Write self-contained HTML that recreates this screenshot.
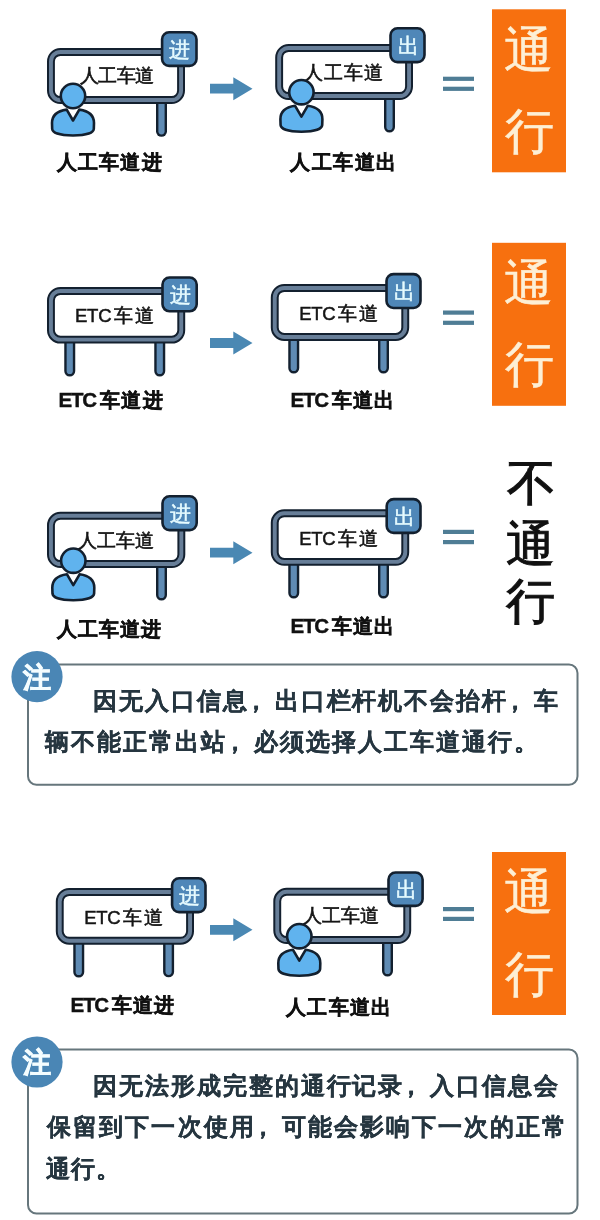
<!DOCTYPE html><html><head><meta charset="utf-8"><style>html,body{margin:0;padding:0;background:#fff;width:600px;height:1220px;overflow:hidden}svg{display:block;will-change:transform}</style></head><body>
<svg width="600" height="1220" viewBox="0 0 600 1220" font-family="'Liberation Sans', sans-serif">
<line x1="161.50" y1="100" x2="161.50" y2="131.30" stroke="#13202f" stroke-width="11.00" stroke-linecap="round"/>
<line x1="161.50" y1="100" x2="161.50" y2="131.30" stroke="#5f8bb4" stroke-width="6.20" stroke-linecap="round"/>
<rect x="50.95" y="51.95" width="130.10" height="48.10" rx="9.5" fill="#fff" stroke="#13202f" stroke-width="7.9"/>
<rect x="50.95" y="51.95" width="130.10" height="48.10" rx="9.5" fill="none" stroke="#677e98" stroke-width="3.9"/>
<rect x="162.10" y="32.30" width="34.40" height="33.60" rx="7" fill="#4f87b8" stroke="#13202f" stroke-width="2.6"/>
<text x="169.30" y="56.60" font-size="21" font-weight="500" fill="#e6fbff" stroke="#e6fbff" stroke-width="0.5">进</text>
<text x="79.70" y="82.20" font-size="19" font-weight="500" fill="#151515" stroke="#151515" stroke-width="0.6" letter-spacing="-0.50">人工车道</text>
<g transform="translate(73,96)" stroke="#13202f" stroke-width="2.6" stroke-linejoin="round" fill="#60b3ee">
<path d="M -20.8,33 L -21,27 C -21,19 -16,15 -6.3,13.6 L 0,24.5 L 6.3,13.6 C 16,15 21,19 21,27 L 20.8,33 C 20.5,36.5 14,39.5 0,39.5 C -14,39.5 -20.5,36.5 -20.8,33 Z"/>
<circle cx="0" cy="0" r="12.2"/>
</g>
<text x="56.70" y="169.00" font-size="20" font-weight="bold" fill="#111" stroke="#111" stroke-width="0.5" letter-spacing="1.25">人工车道进</text>
<path d="M 210,83.8 L 233.3,83.8 L 233.3,77.2 L 252.5,88.7 L 233.3,100.2 L 233.3,93.60000000000001 L 210,93.60000000000001 Z" fill="#4a88b3"/>
<line x1="389.50" y1="96" x2="389.50" y2="127.00" stroke="#13202f" stroke-width="11.00" stroke-linecap="round"/>
<line x1="389.50" y1="96" x2="389.50" y2="127.00" stroke="#5f8bb4" stroke-width="6.20" stroke-linecap="round"/>
<rect x="279.15" y="47.95" width="129.90" height="48.10" rx="9.5" fill="#fff" stroke="#13202f" stroke-width="7.9"/>
<rect x="279.15" y="47.95" width="129.90" height="48.10" rx="9.5" fill="none" stroke="#677e98" stroke-width="3.9"/>
<rect x="390.50" y="28.30" width="34.00" height="33.80" rx="7" fill="#4f87b8" stroke="#13202f" stroke-width="2.6"/>
<text x="398.00" y="53.20" font-size="21" font-weight="500" fill="#e6fbff" stroke="#e6fbff" stroke-width="0.5">出</text>
<text x="304.20" y="78.60" font-size="19" font-weight="500" fill="#151515" stroke="#151515" stroke-width="0.6" letter-spacing="0.83">人工车道</text>
<g transform="translate(301.4,92.2)" stroke="#13202f" stroke-width="2.6" stroke-linejoin="round" fill="#60b3ee">
<path d="M -20.8,33 L -21,27 C -21,19 -16,15 -6.3,13.6 L 0,24.5 L 6.3,13.6 C 16,15 21,19 21,27 L 20.8,33 C 20.5,36.5 14,39.5 0,39.5 C -14,39.5 -20.5,36.5 -20.8,33 Z"/>
<circle cx="0" cy="0" r="12.2"/>
</g>
<text x="290.30" y="169.25" font-size="20" font-weight="bold" fill="#111" stroke="#111" stroke-width="0.5" letter-spacing="1.42">人工车道出</text>
<rect x="443" y="76.7" width="31" height="4.2" fill="#4f7d95"/>
<rect x="443" y="86.7" width="31" height="4.2" fill="#4f7d95"/>
<rect x="492" y="9.3" width="74" height="163" fill="#f7700f"/>
<text x="503.85" y="66.55" font-size="49" font-weight="normal" fill="#fdefd5" stroke="#fdefd5" stroke-width="0.5">通</text>
<text x="504.55" y="147.80" font-size="49" font-weight="normal" fill="#fdefd5" stroke="#fdefd5" stroke-width="0.5">行</text>
<line x1="69.75" y1="339" x2="69.75" y2="371.00" stroke="#13202f" stroke-width="11.00" stroke-linecap="round"/>
<line x1="69.75" y1="339" x2="69.75" y2="371.00" stroke="#5f8bb4" stroke-width="6.20" stroke-linecap="round"/>
<line x1="159.75" y1="339" x2="159.75" y2="371.00" stroke="#13202f" stroke-width="11.00" stroke-linecap="round"/>
<line x1="159.75" y1="339" x2="159.75" y2="371.00" stroke="#5f8bb4" stroke-width="6.20" stroke-linecap="round"/>
<rect x="50.95" y="290.95" width="130.30" height="48.70" rx="9.5" fill="#fff" stroke="#13202f" stroke-width="7.9"/>
<rect x="50.95" y="290.95" width="130.30" height="48.70" rx="9.5" fill="none" stroke="#677e98" stroke-width="3.9"/>
<rect x="162.50" y="277.50" width="34.20" height="33.80" rx="7" fill="#4f87b8" stroke="#13202f" stroke-width="2.6"/>
<text x="169.60" y="301.90" font-size="21" font-weight="500" fill="#e6fbff" stroke="#e6fbff" stroke-width="0.5">进</text>
<text x="75.00" y="322.00" font-size="18.5" font-weight="normal" fill="#151515" stroke="#151515" stroke-width="0.5" letter-spacing="-0.25">ETC</text>
<text x="114.00" y="322.00" font-size="19" font-weight="500" fill="#151515" stroke="#151515" stroke-width="0.6" letter-spacing="1.50">车道</text>
<text x="58.50" y="406.90" font-size="20.5" font-weight="bold" fill="#111" stroke="#111" stroke-width="0.4" letter-spacing="-1.25">ETC</text>
<text x="99.50" y="406.90" font-size="20" font-weight="bold" fill="#111" stroke="#111" stroke-width="0.5" letter-spacing="1.60">车道进</text>
<path d="M 210,338.1 L 233.3,338.1 L 233.3,331.5 L 252.5,343 L 233.3,354.5 L 233.3,347.9 L 210,347.9 Z" fill="#4a88b3"/>
<line x1="293.75" y1="337" x2="293.75" y2="368.00" stroke="#13202f" stroke-width="11.00" stroke-linecap="round"/>
<line x1="293.75" y1="337" x2="293.75" y2="368.00" stroke="#5f8bb4" stroke-width="6.20" stroke-linecap="round"/>
<line x1="383.50" y1="337" x2="383.50" y2="368.00" stroke="#13202f" stroke-width="11.00" stroke-linecap="round"/>
<line x1="383.50" y1="337" x2="383.50" y2="368.00" stroke="#5f8bb4" stroke-width="6.20" stroke-linecap="round"/>
<rect x="274.75" y="287.95" width="130.50" height="49.00" rx="9.5" fill="#fff" stroke="#13202f" stroke-width="7.9"/>
<rect x="274.75" y="287.95" width="130.50" height="49.00" rx="9.5" fill="none" stroke="#677e98" stroke-width="3.9"/>
<rect x="386.50" y="274.10" width="34.00" height="33.90" rx="7" fill="#4f87b8" stroke="#13202f" stroke-width="2.6"/>
<text x="394.00" y="299.05" font-size="21" font-weight="500" fill="#e6fbff" stroke="#e6fbff" stroke-width="0.5">出</text>
<text x="299.20" y="320.00" font-size="18.5" font-weight="normal" fill="#151515" stroke="#151515" stroke-width="0.5" letter-spacing="-0.25">ETC</text>
<text x="338.20" y="320.00" font-size="19" font-weight="500" fill="#151515" stroke="#151515" stroke-width="0.6" letter-spacing="1.50">车道</text>
<text x="290.50" y="407.20" font-size="20.5" font-weight="bold" fill="#111" stroke="#111" stroke-width="0.4" letter-spacing="-1.25">ETC</text>
<text x="331.50" y="407.20" font-size="20" font-weight="bold" fill="#111" stroke="#111" stroke-width="0.5" letter-spacing="1.25">车道出</text>
<rect x="443" y="310.5" width="31" height="4.2" fill="#4f7d95"/>
<rect x="443" y="320.7" width="31" height="4.2" fill="#4f7d95"/>
<rect x="492" y="242.8" width="74" height="163" fill="#f7700f"/>
<text x="503.85" y="300.05" font-size="49" font-weight="normal" fill="#fdefd5" stroke="#fdefd5" stroke-width="0.5">通</text>
<text x="504.55" y="381.30" font-size="49" font-weight="normal" fill="#fdefd5" stroke="#fdefd5" stroke-width="0.5">行</text>
<line x1="161.50" y1="563" x2="161.50" y2="595.00" stroke="#13202f" stroke-width="11.00" stroke-linecap="round"/>
<line x1="161.50" y1="563" x2="161.50" y2="595.00" stroke="#5f8bb4" stroke-width="6.20" stroke-linecap="round"/>
<rect x="50.95" y="515.75" width="130.40" height="48.30" rx="9.5" fill="#fff" stroke="#13202f" stroke-width="7.9"/>
<rect x="50.95" y="515.75" width="130.40" height="48.30" rx="9.5" fill="none" stroke="#677e98" stroke-width="3.9"/>
<rect x="162.50" y="496.30" width="34.20" height="33.80" rx="7" fill="#4f87b8" stroke="#13202f" stroke-width="2.6"/>
<text x="169.60" y="520.70" font-size="21" font-weight="500" fill="#e6fbff" stroke="#e6fbff" stroke-width="0.5">进</text>
<text x="77.50" y="546.50" font-size="19" font-weight="500" fill="#151515" stroke="#151515" stroke-width="0.6" letter-spacing="0.27">人工车道</text>
<g transform="translate(73.3,560.7)" stroke="#13202f" stroke-width="2.6" stroke-linejoin="round" fill="#60b3ee">
<path d="M -20.8,33 L -21,27 C -21,19 -16,15 -6.3,13.6 L 0,24.5 L 6.3,13.6 C 16,15 21,19 21,27 L 20.8,33 C 20.5,36.5 14,39.5 0,39.5 C -14,39.5 -20.5,36.5 -20.8,33 Z"/>
<circle cx="0" cy="0" r="12.2"/>
</g>
<text x="57.00" y="636.00" font-size="20" font-weight="bold" fill="#111" stroke="#111" stroke-width="0.5" letter-spacing="1.00">人工车道进</text>
<path d="M 210,547.8000000000001 L 233.3,547.8000000000001 L 233.3,541.2 L 252.5,552.7 L 233.3,564.2 L 233.3,557.6 L 210,557.6 Z" fill="#4a88b3"/>
<line x1="293.75" y1="561" x2="293.75" y2="593.00" stroke="#13202f" stroke-width="11.00" stroke-linecap="round"/>
<line x1="293.75" y1="561" x2="293.75" y2="593.00" stroke="#5f8bb4" stroke-width="6.20" stroke-linecap="round"/>
<line x1="383.50" y1="561" x2="383.50" y2="593.00" stroke="#13202f" stroke-width="11.00" stroke-linecap="round"/>
<line x1="383.50" y1="561" x2="383.50" y2="593.00" stroke="#5f8bb4" stroke-width="6.20" stroke-linecap="round"/>
<rect x="274.75" y="513.25" width="130.50" height="48.60" rx="9.5" fill="#fff" stroke="#13202f" stroke-width="7.9"/>
<rect x="274.75" y="513.25" width="130.50" height="48.60" rx="9.5" fill="none" stroke="#677e98" stroke-width="3.9"/>
<rect x="386.70" y="499.10" width="33.80" height="33.80" rx="7" fill="#4f87b8" stroke="#13202f" stroke-width="2.6"/>
<text x="394.10" y="524.00" font-size="21" font-weight="500" fill="#e6fbff" stroke="#e6fbff" stroke-width="0.5">出</text>
<text x="299.20" y="545.30" font-size="18.5" font-weight="normal" fill="#151515" stroke="#151515" stroke-width="0.5" letter-spacing="-0.25">ETC</text>
<text x="338.20" y="545.30" font-size="19" font-weight="500" fill="#151515" stroke="#151515" stroke-width="0.6" letter-spacing="1.50">车道</text>
<text x="290.50" y="633.10" font-size="20.5" font-weight="bold" fill="#111" stroke="#111" stroke-width="0.4" letter-spacing="-1.25">ETC</text>
<text x="331.50" y="633.10" font-size="20" font-weight="bold" fill="#111" stroke="#111" stroke-width="0.5" letter-spacing="1.25">车道出</text>
<rect x="443" y="529.8" width="31" height="4.2" fill="#4f7d95"/>
<rect x="443" y="540" width="31" height="4.2" fill="#4f7d95"/>
<text x="506.75" y="499.60" font-size="49" font-weight="normal" fill="#111" stroke="#111" stroke-width="1.0">不</text>
<text x="505.75" y="561.30" font-size="49" font-weight="normal" fill="#111" stroke="#111" stroke-width="1.0">通</text>
<text x="506.30" y="618.45" font-size="49" font-weight="normal" fill="#111" stroke="#111" stroke-width="1.0">行</text>
<rect x="28" y="664.5" width="549.5" height="120.2" rx="8.5" fill="#fff" stroke="#66767c" stroke-width="2"/>
<circle cx="37" cy="676.7" r="25.6" fill="#4a86b5"/>
<text x="23.05" y="686.65" font-size="28" font-weight="bold" fill="#f4fdff" stroke="#f4fdff" stroke-width="0.7">注</text>
<text x="92.75" y="708.95" font-size="24" font-weight="bold" fill="#263640" stroke="#263640" stroke-width="0.25" letter-spacing="1.97">因无入口信息<tspan dx="-5">，</tspan><tspan dx="5">出</tspan>口栏杆机不会抬杆<tspan dx="-5">，</tspan><tspan dx="5">车</tspan></text>
<text x="45.00" y="750.15" font-size="24" font-weight="bold" fill="#263640" stroke="#263640" stroke-width="0.25" letter-spacing="2.08">辆不能正常出站<tspan dx="-5">，</tspan><tspan dx="5">必</tspan>须选择人工车道通行。</text>
<line x1="78.75" y1="940" x2="78.75" y2="972.00" stroke="#13202f" stroke-width="11.00" stroke-linecap="round"/>
<line x1="78.75" y1="940" x2="78.75" y2="972.00" stroke="#5f8bb4" stroke-width="6.20" stroke-linecap="round"/>
<line x1="168.60" y1="940" x2="168.60" y2="971.80" stroke="#13202f" stroke-width="11.00" stroke-linecap="round"/>
<line x1="168.60" y1="940" x2="168.60" y2="971.80" stroke="#5f8bb4" stroke-width="6.20" stroke-linecap="round"/>
<rect x="59.75" y="891.95" width="130.30" height="48.80" rx="9.5" fill="#fff" stroke="#13202f" stroke-width="7.9"/>
<rect x="59.75" y="891.95" width="130.30" height="48.80" rx="9.5" fill="none" stroke="#677e98" stroke-width="3.9"/>
<rect x="172.10" y="878.30" width="33.40" height="33.80" rx="7" fill="#4f87b8" stroke="#13202f" stroke-width="2.6"/>
<text x="178.80" y="902.70" font-size="21" font-weight="500" fill="#e6fbff" stroke="#e6fbff" stroke-width="0.5">进</text>
<text x="84.20" y="924.25" font-size="18.5" font-weight="normal" fill="#151515" stroke="#151515" stroke-width="0.5" letter-spacing="-0.25">ETC</text>
<text x="123.20" y="924.25" font-size="19" font-weight="500" fill="#151515" stroke="#151515" stroke-width="0.6" letter-spacing="1.50">车道</text>
<text x="70.50" y="1012.10" font-size="20.5" font-weight="bold" fill="#111" stroke="#111" stroke-width="0.4" letter-spacing="-1.25">ETC</text>
<text x="111.50" y="1012.10" font-size="20" font-weight="bold" fill="#111" stroke="#111" stroke-width="0.5" letter-spacing="1.25">车道进</text>
<path d="M 210,924.9 L 233.3,924.9 L 233.3,918.3 L 252.5,929.8 L 233.3,941.3 L 233.3,934.6999999999999 L 210,934.6999999999999 Z" fill="#4a88b3"/>
<line x1="387.50" y1="939" x2="387.50" y2="971.00" stroke="#13202f" stroke-width="11.00" stroke-linecap="round"/>
<line x1="387.50" y1="939" x2="387.50" y2="971.00" stroke="#5f8bb4" stroke-width="6.20" stroke-linecap="round"/>
<rect x="277.25" y="891.75" width="130.00" height="48.30" rx="9.5" fill="#fff" stroke="#13202f" stroke-width="7.9"/>
<rect x="277.25" y="891.75" width="130.00" height="48.30" rx="9.5" fill="none" stroke="#677e98" stroke-width="3.9"/>
<rect x="388.50" y="872.50" width="34.10" height="33.40" rx="7" fill="#4f87b8" stroke="#13202f" stroke-width="2.6"/>
<text x="396.05" y="897.20" font-size="21" font-weight="500" fill="#e6fbff" stroke="#e6fbff" stroke-width="0.5">出</text>
<text x="303.30" y="922.00" font-size="19" font-weight="500" fill="#151515" stroke="#151515" stroke-width="0.6">人工车道</text>
<g transform="translate(299.3,936.2)" stroke="#13202f" stroke-width="2.6" stroke-linejoin="round" fill="#60b3ee">
<path d="M -20.8,33 L -21,27 C -21,19 -16,15 -6.3,13.6 L 0,24.5 L 6.3,13.6 C 16,15 21,19 21,27 L 20.8,33 C 20.5,36.5 14,39.5 0,39.5 C -14,39.5 -20.5,36.5 -20.8,33 Z"/>
<circle cx="0" cy="0" r="12.2"/>
</g>
<text x="286.00" y="1013.75" font-size="20" font-weight="bold" fill="#111" stroke="#111" stroke-width="0.5" letter-spacing="1.25">人工车道出</text>
<rect x="443" y="907" width="31" height="4.2" fill="#4f7d95"/>
<rect x="443" y="916.8" width="31" height="4.2" fill="#4f7d95"/>
<rect x="492" y="852" width="74" height="163" fill="#f7700f"/>
<text x="503.85" y="909.25" font-size="49" font-weight="normal" fill="#fdefd5" stroke="#fdefd5" stroke-width="0.5">通</text>
<text x="504.55" y="990.50" font-size="49" font-weight="normal" fill="#fdefd5" stroke="#fdefd5" stroke-width="0.5">行</text>
<rect x="28" y="1049.5" width="549.5" height="164" rx="8.5" fill="#fff" stroke="#66767c" stroke-width="2"/>
<circle cx="37" cy="1062" r="25.6" fill="#4a86b5"/>
<text x="22.88" y="1072.00" font-size="28" font-weight="bold" fill="#f4fdff" stroke="#f4fdff" stroke-width="0.7">注</text>
<text x="92.70" y="1094.35" font-size="24" font-weight="bold" fill="#263640" stroke="#263640" stroke-width="0.25" letter-spacing="1.98">因无法形成完整的通行记录<tspan dx="-5">，</tspan><tspan dx="5">入</tspan>口信息会</text>
<text x="47.25" y="1134.65" font-size="24" font-weight="bold" fill="#263640" stroke="#263640" stroke-width="0.25" letter-spacing="2.06">保留到下一次使用<tspan dx="-5">，</tspan><tspan dx="5">可</tspan>能会影响下一次的正常</text>
<text x="45.80" y="1177.15" font-size="24" font-weight="bold" fill="#263640" stroke="#263640" stroke-width="0.25" letter-spacing="1.20">通行。</text>
</svg></body></html>
